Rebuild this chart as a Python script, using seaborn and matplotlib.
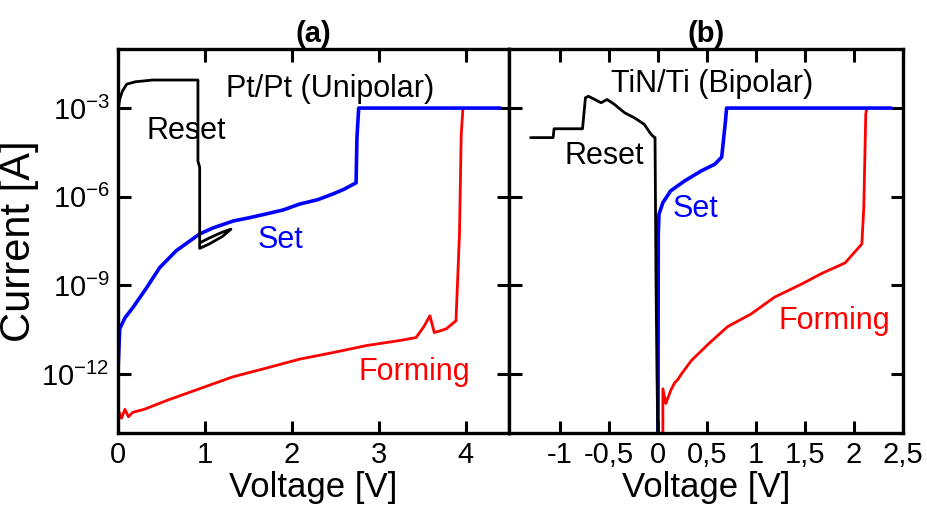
import numpy as np
import pandas as pd
import matplotlib
matplotlib.use('Agg')
import matplotlib.pyplot as plt
import seaborn as sns

# ---- data, current as log10(I [A]) ----
# (a) Pt/Pt unipolar
a_reset_v = [0.0, 0.02, 0.05, 0.1, 0.2, 0.3, 0.4, 0.6, 0.8, 0.92, 0.92, 0.94, 0.94,
             1.05, 1.2, 1.3, 1.2, 1.05, 0.95]
a_reset_i = [-3.1, -2.7, -2.43, -2.19, -2.11, -2.08, -2.05, -2.05, -2.05, -2.05, -4.8, -5.0, -7.75,
             -7.6, -7.35, -7.1, -7.2, -7.4, -7.55]
a_set_v = [0.0, 0.02, 0.08, 0.17, 0.33, 0.48, 0.67, 0.94, 1.1, 1.33, 1.5, 1.71, 1.9, 2.09,
           2.3, 2.48, 2.6, 2.74, 2.75, 2.77, 3.2, 3.8, 4.4]
a_set_i = [-11.9, -10.47, -10.1, -9.76, -9.08, -8.4, -7.83, -7.26, -7.05, -6.82, -6.72, -6.58,
           -6.45, -6.25, -6.1, -5.9, -5.75, -5.53, -4.0, -3.0, -3.0, -3.0, -3.0]
a_form_v = [0.0, 0.04, 0.08, 0.12, 0.17, 0.3, 0.56, 0.94, 1.32, 1.71, 2.09, 2.47, 2.86, 3.24,
            3.43, 3.52, 3.59, 3.64, 3.7, 3.78, 3.89, 3.93, 3.95, 3.97]
a_form_i = [-13.2, -13.5, -13.2, -13.45, -13.3, -13.2, -12.9, -12.5, -12.1, -11.8, -11.5, -11.28,
            -11.04, -10.87, -10.77, -10.4, -10.03, -10.6, -10.55, -10.47, -10.2, -7.26, -3.9, -3.0]

# (b) TiN/Ti bipolar
b_reset_v = [-1.30, -1.07, -1.06, -0.77, -0.74, -0.71, -0.65, -0.58, -0.52, -0.45, -0.34, -0.24,
             -0.14, -0.07, -0.04, -0.03, -0.02, -0.01, 0.0]
b_reset_i = [-4.0, -4.0, -3.7, -3.7, -2.65, -2.6, -2.7, -2.82, -2.71, -2.86, -3.16, -3.33,
             -3.55, -3.89, -3.98, -4.0, -8.9, -12.0, -14.5]
b_set_v = [0.0, 0.003, 0.01, 0.05, 0.13, 0.27, 0.44, 0.58, 0.65, 0.69, 0.70, 1.5, 2.38]
b_set_i = [-14.5, -7.3, -6.6, -6.2, -5.8, -5.47, -5.13, -4.9, -4.66, -3.4, -3.0, -3.0, -3.0]
b_form_v = [0.05, 0.05, 0.08, 0.13, 0.17, 0.2, 0.24, 0.34, 0.51, 0.71, 0.95, 1.19, 1.47, 1.67,
            1.91, 2.08, 2.1, 2.12, 2.13]
b_form_i = [-14.5, -12.5, -13.0, -12.56, -12.3, -12.2, -12.0, -11.55, -11.0, -10.4, -9.97, -9.4,
            -8.95, -8.6, -8.24, -7.6, -6.37, -3.2, -3.0]

y_ticks = [-12, -9, -6, -3]
a_xticks = [0, 1, 2, 3, 4]
b_xticks = [-1, -0.5, 0, 0.5, 1, 1.5, 2, 2.5]
b_xlabels = ['-1', '-0,5', '0', '0,5', '1', '1,5', '2', '2,5']

sns.set_theme(style='ticks')
plt.rcParams['font.family'] = ['Liberation Sans', 'DejaVu Sans']
plt.rcParams['mathtext.fontset'] = 'custom'
plt.rcParams['mathtext.rm'] = 'Liberation Sans'
plt.rcParams['mathtext.it'] = 'Liberation Sans'
plt.rcParams['text.color'] = 'black'
plt.rcParams['axes.labelcolor'] = 'black'

fig = plt.figure(figsize=(9.27, 5.29), dpi=100)
ax1 = fig.add_axes([118/927, 1-433/529, 391/927, 384/529])
ax2 = fig.add_axes([509/927, 1-433/529, 394/927, 384/529])

def draw(ax, v, i, color, lw):
    d = pd.DataFrame({'V': v, 'I': 10.0 ** np.array(i)})
    sns.lineplot(data=d, x='V', y='I', sort=False, estimator=None, color=color, lw=lw, ax=ax)

draw(ax1, a_form_v, a_form_i, '#ff0000', 2.0)
draw(ax1, a_set_v, a_set_i, '#0000ff', 2.6)
draw(ax1, a_reset_v, a_reset_i, 'black', 2.0)
draw(ax2, b_form_v, b_form_i, '#ff0000', 2.0)
draw(ax2, b_set_v, b_set_i, '#0000ff', 2.6)
draw(ax2, b_reset_v, b_reset_i, 'black', 2.0)

for ax in (ax1, ax2):
    ax.set_yscale('log')
    ax.set_ylim(1e-14, 1e-1)
    ax.set_yticks([10.0 ** t for t in y_ticks])
    ax.minorticks_off()
    ax.tick_params(direction='in', length=9, width=2.2, top=True, right=True,
                   labelsize=21, pad=6, colors='black')
    for s in ax.spines.values():
        s.set_linewidth(2.4)
        s.set_color('black')
    ax.set_xlabel('Voltage [V]', fontsize=25, labelpad=1)

ax1.set_xlim(0, 4.5)
ax1.set_xticks(a_xticks)
ax1.set_yticklabels([r'$10^{%d}$' % t for t in y_ticks])
ax1.set_ylabel('Current [A]', fontsize=30, labelpad=2)

ax2.set_xlim(-1.52, 2.5)
ax2.set_xticks(b_xticks)
ax2.set_xticklabels(b_xlabels)
ax2.set_yticklabels([])
ax2.set_ylabel('')

ax1.set_title('(a)', fontsize=21, fontweight='bold', pad=5)
ax2.set_title('(b)', fontsize=21, fontweight='bold', pad=5)

kw = dict(ha='center', va='center', fontsize=22)
ax1.text(2.44, 10 ** -2.36, 'Pt/Pt (Unipolar)', color='black', **kw)
ax1.text(0.78, 10 ** -3.78, 'Reset', color='black', **kw)
ax1.text(1.87, 10 ** -7.46, 'Set', color='#0000ff', **kw)
ax1.text(3.41, 10 ** -11.95, 'Forming', color='#ff0000', **kw)
ax2.text(0.55, 10 ** -2.19, 'TiN/Ti (Bipolar)', color='black', **kw)
ax2.text(-0.55, 10 ** -4.62, 'Reset', color='black', **kw)
ax2.text(0.38, 10 ** -6.41, 'Set', color='#0000ff', **kw)
ax2.text(1.8, 10 ** -10.2, 'Forming', color='#ff0000', **kw)

fig.savefig('out.png', dpi=100)
